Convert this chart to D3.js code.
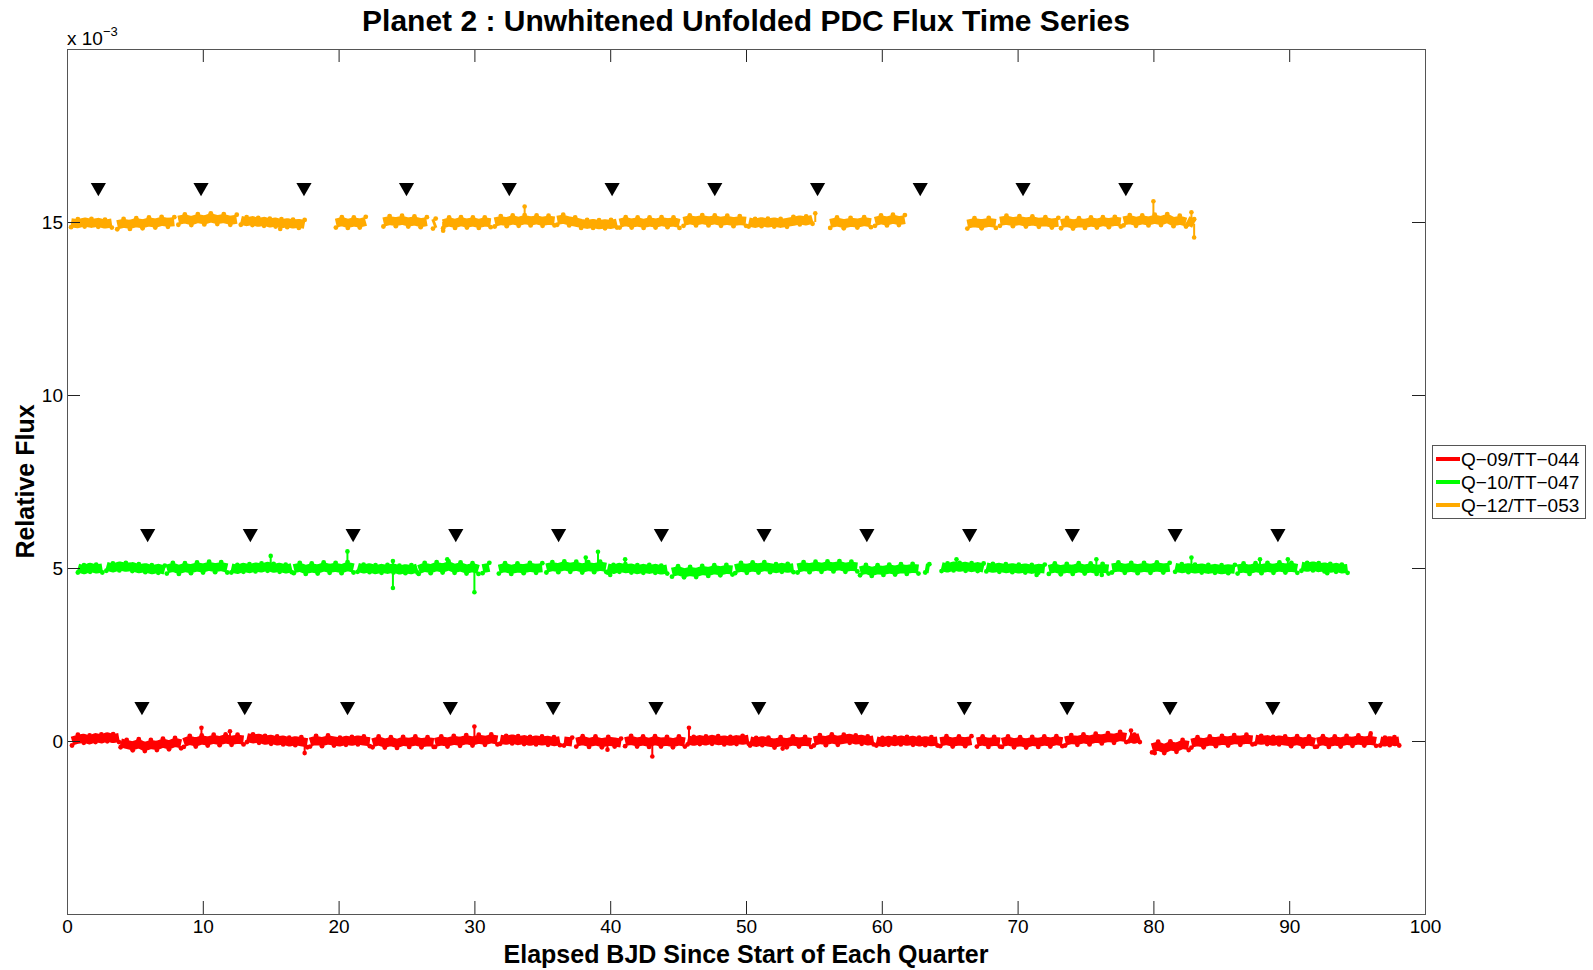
<!DOCTYPE html>
<html>
<head>
<meta charset="utf-8">
<script src="https://cdn.jsdelivr.net/npm/d3@7"></script>
<style>
  html, body { margin: 0; padding: 0; background: #fff; }
  svg { display: block; font-family: "Liberation Sans", Arial, Helvetica, sans-serif; }
</style>
</head>
<body>
<svg id="chart" width="1593" height="970"></svg>
<script>
// ---------------- DATA (flux in units of 1e-3, time in days) ----------------
const xTicks = [0, 10, 20, 30, 40, 50, 60, 70, 80, 90, 100];
const yTicks = [0, 5, 10, 15];
const seriesNames = ["Q\u221209/TT\u2212044", "Q\u221210/TT\u2212047", "Q\u221212/TT\u2212053"];
const seriesColors = ["#ff0000", "#00ff00", "#ffaa00"];

// Q-09 / TT-044 (offset 0)
const q09Segments = [
  {start: 0.37, end: 3.83, flux: [0.0,0.05,0.08,0.03,0.1,0.06,0.12,0.07,0.1]},
  {start: 3.95, end: 8.4, flux: [-0.05,-0.1,-0.14,-0.08,-0.16,-0.1,-0.13,-0.06,-0.11,-0.04,-0.08]},
  {start: 8.6, end: 13.0, flux: [-0.04,0.02,-0.03,0.03,0.0,0.05,0.01,0.06,0.02,0.05,0.03]},
  {start: 13.25, end: 17.7, flux: [0.1,0.06,0.08,0.02,0.05,0.0,0.03,-0.03,0.01,-0.02,-0.05]},
  {start: 17.9, end: 22.3, flux: [-0.03,0.02,-0.02,0.03,0.0,-0.03,0.02,-0.01,0.03,0.0,-0.02]},
  {start: 22.5, end: 27.0, flux: [-0.05,0.0,-0.06,-0.02,-0.07,-0.01,-0.04,0.0,-0.05,-0.02,-0.04]},
  {start: 27.1, end: 31.7, flux: [-0.04,0.0,-0.03,0.02,-0.01,0.04,0.0,0.05,0.02,0.06,0.03]},
  {start: 31.9, end: 36.3, flux: [0.05,0.02,0.06,0.01,0.04,-0.01,0.03,0.0,0.02,-0.02,0.01]},
  {start: 36.6, end: 37.2, flux: [0.0,-0.03]},
  {start: 37.5, end: 40.8, flux: [-0.03,0.01,-0.04,0.0,-0.05,-0.01,-0.03,-0.06]},
  {start: 41.1, end: 45.5, flux: [-0.02,0.02,-0.03,0.0,-0.04,0.01,-0.03,-0.01,-0.05,0.0,-0.03]},
  {start: 45.7, end: 50.2, flux: [0.03,-0.01,0.04,0.0,0.05,0.01,0.03,-0.01,0.04,0.02,0.05]},
  {start: 50.3, end: 54.8, flux: [0.0,-0.04,0.01,-0.03,-0.06,-0.02,-0.05,0.0,-0.03,-0.01,-0.04]},
  {start: 55.0, end: 59.4, flux: [0.0,0.04,0.01,0.06,0.02,0.05,0.08,0.03,0.05,0.0,0.03]},
  {start: 59.6, end: 64.1, flux: [0.0,-0.04,0.02,-0.02,0.03,-0.01,0.02,-0.03,0.01,-0.02,0.0]},
  {start: 64.3, end: 66.6, flux: [-0.02,0.01,-0.03,0.0,-0.02,0.01]},
  {start: 67.0, end: 68.7, flux: [-0.03,0.0,-0.04,-0.01,-0.03]},
  {start: 68.85, end: 73.3, flux: [-0.04,0.0,-0.05,-0.02,-0.06,-0.01,-0.04,0.0,-0.03,0.01,-0.02]},
  {start: 73.5, end: 78.0, flux: [0.0,0.04,0.02,0.06,0.03,0.08,0.06,0.1,0.08,0.13,0.1]},
  {start: 78.2, end: 79.0, flux: [0.12,0.05,0.1]},
  {start: 79.9, end: 82.6, flux: [-0.2,-0.15,-0.22,-0.14,-0.18,-0.1,-0.13]},
  {start: 82.8, end: 87.3, flux: [-0.06,-0.02,-0.05,0.0,-0.02,0.02,0.0,0.04,0.02,0.05,0.03]},
  {start: 87.5, end: 91.9, flux: [0.05,0.02,0.04,-0.01,0.03,0.0,-0.02,0.01,-0.03,0.0,-0.04]},
  {start: 92.05, end: 96.4, flux: [-0.03,0.01,-0.04,0.0,-0.03,0.02,-0.01,0.03,0.0,0.02,-0.01]},
  {start: 96.7, end: 98.1, flux: [0.0,-0.03,0.01,-0.02,0.0]}
];
const q09Spikes = [[9.9,0.0,0.38],[12.0,0.0,0.28],[17.5,0.0,-0.35],[30.0,0.0,0.42],[39.8,0.0,-0.25],
  [43.1,0.0,-0.45],[45.8,0.0,0.38],[52.7,0.0,-0.22],[78.35,0.1,0.3],[80.1,-0.18,-0.35],[96.0,0.0,0.22]];
const q09Transits = [5.52,13.09,20.66,28.23,35.8,43.37,50.94,58.51,66.08,73.65,81.22,88.79,96.36];

// Q-10 / TT-047 (offset 5e-3)
const q10Segments = [
  {start: 0.8, end: 2.6, flux: [5.0,4.95,5.02,4.97,5.0]},
  {start: 2.9, end: 7.2, flux: [5.05,5.0,5.06,5.02,5.04,4.98,5.01,4.95,4.99,4.94]},
  {start: 7.35, end: 11.8, flux: [4.97,5.02,4.96,5.01,4.98,5.03,5.0,5.05,5.01,5.04,5.0]},
  {start: 12.1, end: 16.55, flux: [5.0,4.96,5.02,4.98,5.03,5.0,5.05,4.99,5.02,4.97,5.01]},
  {start: 16.7, end: 21.1, flux: [4.98,5.02,4.96,5.0,4.97,5.03,4.99,5.02,4.98,5.04,5.0]},
  {start: 21.4, end: 25.8, flux: [5.02,4.97,5.01,4.95,4.99,4.96,5.0,4.94,4.98,4.95,5.0]},
  {start: 25.9, end: 30.3, flux: [4.96,5.02,4.98,5.04,5.0,5.06,4.99,5.03,4.97,5.01,4.96]},
  {start: 30.6, end: 31.1, flux: [4.98,5.02]},
  {start: 31.8, end: 35.0, flux: [4.97,5.01,4.96,5.0,4.98,5.02,4.99,5.01]},
  {start: 35.3, end: 39.7, flux: [5.0,5.04,5.01,5.06,5.02,5.05,5.0,5.04,5.01,5.05,5.02]},
  {start: 39.8, end: 44.2, flux: [5.0,4.96,5.02,4.98,5.0,4.95,4.99,4.96,4.99,4.94,4.97]},
  {start: 44.55, end: 49.0, flux: [4.88,4.92,4.86,4.9,4.87,4.93,4.9,4.95,4.92,4.96,4.94]},
  {start: 49.2, end: 53.5, flux: [4.98,5.02,4.99,5.03,5.0,5.04,5.01,4.98,5.02,4.99,5.01]},
  {start: 53.8, end: 58.2, flux: [5.0,5.04,5.01,5.05,5.02,5.06,5.03,5.07,5.02,5.05,5.03]},
  {start: 58.4, end: 62.7, flux: [4.92,4.96,4.9,4.95,4.93,4.97,4.94,4.98,4.96,4.99,4.97]},
  {start: 63.2, end: 63.5, flux: [5.0,4.98]},
  {start: 64.4, end: 67.5, flux: [5.04,5.0,5.06,5.02,5.05,5.01,5.04,5.0]},
  {start: 67.7, end: 72.0, flux: [5.03,4.99,5.02,4.98,5.01,4.97,5.0,4.96,4.99,4.97]},
  {start: 72.3, end: 76.7, flux: [4.96,5.0,4.95,4.99,4.96,5.01,4.97,5.0,4.96,4.99,4.97]},
  {start: 76.95, end: 81.2, flux: [5.0,5.03,4.99,5.02,4.98,5.02,4.99,5.03,5.0,5.02]},
  {start: 81.6, end: 86.0, flux: [5.02,4.98,5.01,4.97,5.0,4.96,4.99,4.95,4.98,4.96]},
  {start: 86.2, end: 90.6, flux: [4.97,5.0,4.96,5.01,4.98,5.02,4.99,5.03,5.0,5.02,4.99]},
  {start: 90.9, end: 94.3, flux: [5.05,5.02,5.06,5.01,5.03,4.99,5.02,4.97,4.99]}
];
const q10Spikes = [[15.0,5.0,5.35],[20.65,5.0,5.48],[24.0,5.0,4.42],[24.0,5.0,5.2],[28.0,5.0,5.25],
  [30.0,5.0,4.3],[38.2,5.0,5.3],[39.1,5.0,5.47],[40.0,5.0,4.8],[41.1,5.0,5.25],[65.5,5.0,5.25],
  [71.4,5.0,4.8],[75.8,5.0,5.25],[76.2,5.0,4.8],[82.8,5.0,5.3],[87.85,5.0,5.25],[89.9,5.0,5.25],[92.8,5.0,4.85]];
const q10Transits = [5.94,13.5,21.07,28.63,36.2,43.77,51.33,58.9,66.47,74.03,81.6,89.17];

// Q-12 / TT-053 (offset 15e-3)
const q12Segments = [
  {start: 0.3, end: 3.3, flux: [14.98,14.95,15.0,14.96,14.99,14.94,14.97]},
  {start: 3.7, end: 7.9, flux: [14.92,14.96,14.93,14.98,14.95,15.0,14.97,15.02,14.99,15.01]},
  {start: 8.2, end: 12.5, flux: [15.05,15.09,15.04,15.1,15.06,15.12,15.07,15.1,15.05,15.08]},
  {start: 12.8, end: 17.5, flux: [15.05,15.01,15.04,14.99,15.02,14.97,15.0,14.95,14.98,14.94,14.96,14.93]},
  {start: 19.8, end: 22.0, flux: [14.97,15.01,14.96,15.0,14.97,15.02]},
  {start: 23.3, end: 26.5, flux: [15.0,15.04,15.01,15.05,15.0,15.03,14.98,15.01]},
  {start: 26.95, end: 27.15, flux: [14.94,14.97]},
  {start: 27.7, end: 31.2, flux: [14.95,15.0,14.96,15.01,14.97,15.0,14.96,15.0,14.98]},
  {start: 31.5, end: 35.9, flux: [15.0,15.04,15.01,15.06,15.02,15.07,15.03,15.06,15.02,15.05,15.03]},
  {start: 36.1, end: 40.5, flux: [15.05,15.08,15.03,15.0,14.96,14.93,14.96,14.92,14.95,14.93,14.97]},
  {start: 40.7, end: 45.1, flux: [14.97,15.01,14.97,15.0,14.96,15.0,14.97,15.01,14.98,15.0,14.96]},
  {start: 45.4, end: 50.0, flux: [15.02,15.06,15.03,15.07,15.03,15.06,15.02,15.05,15.01,15.04,15.02]},
  {start: 50.2, end: 54.9, flux: [15.0,14.96,15.01,14.97,15.0,14.96,14.99,15.02,15.06,15.03,15.08]},
  {start: 56.2, end: 59.2, flux: [14.96,15.0,14.95,14.99,14.97,15.01,14.98]},
  {start: 59.5, end: 61.7, flux: [15.02,15.06,15.03,15.08,15.04,15.07]},
  {start: 66.3, end: 68.4, flux: [14.94,14.98,14.95,14.99,14.96]},
  {start: 68.7, end: 73.0, flux: [15.02,15.05,15.01,15.04,15.0,15.03,14.99,15.01,14.97,14.99]},
  {start: 73.2, end: 77.6, flux: [14.95,14.99,14.94,14.98,14.96,15.0,14.97,15.01,14.98,15.02,15.0]},
  {start: 77.8, end: 82.4, flux: [15.03,15.07,15.02,15.06,15.03,15.08,15.04,15.1,15.01,15.05,15.0]},
  {start: 82.5, end: 83.0, flux: [15.05,14.95]}
];
const q12Spikes = [[15.7,15.0,14.8],[27.7,15.0,14.75],[33.7,15.0,15.45],[55.1,15.0,15.25],
  [80.0,15.05,15.6],[82.8,15.0,15.28],[83.0,14.95,14.55]];
const q12Transits = [2.31,9.87,17.45,25.0,32.57,40.14,47.7,55.27,62.83,70.4,77.97];

const transitMarkerOffset = 1.0;  // marker drawn 1e-3 above each series level
const seriesLevels = [0, 5, 15];

// ---------------- LAYOUT ----------------
const plot = {left: 67, top: 49, right: 1425, bottom: 914};

const svg = d3.select("#chart");
const x = d3.scaleLinear().domain([0, 100]).range([plot.left, plot.right]);
const y = d3.scaleLinear().domain([-5, 20]).range([plot.bottom, plot.top]);

const allSegments = [q09Segments, q10Segments, q12Segments];
const allSpikes = [q09Spikes, q10Spikes, q12Spikes];
const allTransits = [q09Transits, q10Transits, q12Transits];

const line = d3.line().x(d => x(d[0])).y(d => y(d[1]));

// data bands
allSegments.forEach((segs, si) => {
  const g = svg.append("g");
  const spikes = allSpikes[si];
  g.selectAll(null).data(spikes).enter().append("line")
    .attr("x1", d => x(d[0])).attr("x2", d => x(d[0]))
    .attr("y1", d => y(d[1])).attr("y2", d => y(d[2]))
    .attr("stroke", seriesColors[si]).attr("stroke-width", 2);
  g.selectAll(null).data(spikes).enter().append("circle")
    .attr("cx", d => x(d[0])).attr("cy", d => y(d[2]))
    .attr("r", 2.3).attr("fill", seriesColors[si]);
  segs.forEach(seg => {
    const n = seg.flux.length;
    const pts = seg.flux.map((v, i) => [seg.start + (n > 1 ? i * (seg.end - seg.start) / (n - 1) : 0), v]);
    g.append("path")
      .attr("d", line(pts))
      .attr("fill", "none")
      .attr("stroke", seriesColors[si])
      .attr("stroke-width", 9)
      .attr("stroke-linejoin", "round")
      .attr("stroke-linecap", "butt");
    g.selectAll(null).data(pts).enter().append("circle")
      .attr("cx", d => x(d[0]))
      .attr("cy", (d, i) => y(d[1] + (i % 2 ? 0.13 : -0.13)))
      .attr("r", 2.4)
      .attr("fill", seriesColors[si]);
  });
});

// transit markers
const tri = d3.symbol().type(d3.symbolTriangle).size(100);
allTransits.forEach((ts, si) => {
  svg.append("g").selectAll("path").data(ts).enter().append("path")
    .attr("d", tri)
    .attr("transform", d => `translate(${x(d)},${y(seriesLevels[si] + transitMarkerOffset)}) rotate(180)`)
    .attr("fill", "#000");
});

// axes box with inward ticks
const tickLen = 13;
const xAxisB = d3.axisBottom(x).tickValues(xTicks).tickSize(-tickLen).tickPadding(6).tickFormat(d3.format("d"));
const xAxisT = d3.axisTop(x).tickValues(xTicks).tickSize(-tickLen).tickFormat("");
const yAxisL = d3.axisLeft(y).tickValues(yTicks).tickSize(-tickLen).tickPadding(4).tickFormat(d3.format("d"));
const yAxisR = d3.axisRight(y).tickValues(yTicks).tickSize(-tickLen).tickFormat("");

function styleAxis(sel) {
  sel.select(".domain").remove();
  sel.selectAll(".tick line").attr("stroke", "#222").attr("stroke-width", 1);
  sel.selectAll(".tick text").attr("fill", "#000").attr("font-size", 19)
     .attr("font-family", "'Liberation Sans', Arial, sans-serif");
}
const axisG = svg.append("g");
axisG.append("g").attr("transform", `translate(0,${plot.bottom})`).call(xAxisB).call(styleAxis);
axisG.append("g").attr("transform", `translate(0,${plot.top})`).call(xAxisT).call(styleAxis);
axisG.append("g").attr("transform", `translate(${plot.left},0)`).call(yAxisL).call(styleAxis);
axisG.append("g").attr("transform", `translate(${plot.right},0)`).call(yAxisR).call(styleAxis);

svg.append("rect")
  .attr("x", plot.left + 0.5).attr("y", plot.top + 0.5)
  .attr("width", plot.right - plot.left).attr("height", plot.bottom - plot.top)
  .attr("fill", "none").attr("stroke", "#555").attr("stroke-width", 1);

// exponent label
const expT = svg.append("text").attr("x", plot.left).attr("y", 45).attr("font-size", 19).attr("fill", "#000");
expT.append("tspan").text("x 10");
expT.append("tspan").attr("dy", -9).attr("font-size", 13).text("\u22123");

// title
svg.append("text")
  .attr("x", (plot.left + plot.right) / 2).attr("y", 31)
  .attr("text-anchor", "middle").attr("font-size", 30).attr("font-weight", "bold")
  .text("Planet 2 : Unwhitened Unfolded PDC Flux Time Series");

// axis labels
svg.append("text")
  .attr("x", (plot.left + plot.right) / 2).attr("y", 963)
  .attr("text-anchor", "middle").attr("font-size", 25).attr("font-weight", "bold")
  .text("Elapsed BJD Since Start of Each Quarter");
svg.append("text")
  .attr("transform", `translate(34,${(plot.top + plot.bottom) / 2}) rotate(-90)`)
  .attr("text-anchor", "middle").attr("font-size", 25).attr("font-weight", "bold")
  .text("Relative Flux");

// legend
const leg = svg.append("g");
leg.append("rect").attr("x", 1432.5).attr("y", 445.5).attr("width", 153).attr("height", 73)
  .attr("fill", "#fff").attr("stroke", "#555").attr("stroke-width", 1);
seriesNames.forEach((name, i) => {
  const cy = 459 + i * 23;
  leg.append("line").attr("x1", 1436).attr("x2", 1460).attr("y1", cy).attr("y2", cy)
    .attr("stroke", seriesColors[i]).attr("stroke-width", 4);
  leg.append("text").attr("x", 1461).attr("y", cy + 7).attr("font-size", 19).attr("fill", "#000").text(name);
});
</script>
</body>
</html>
